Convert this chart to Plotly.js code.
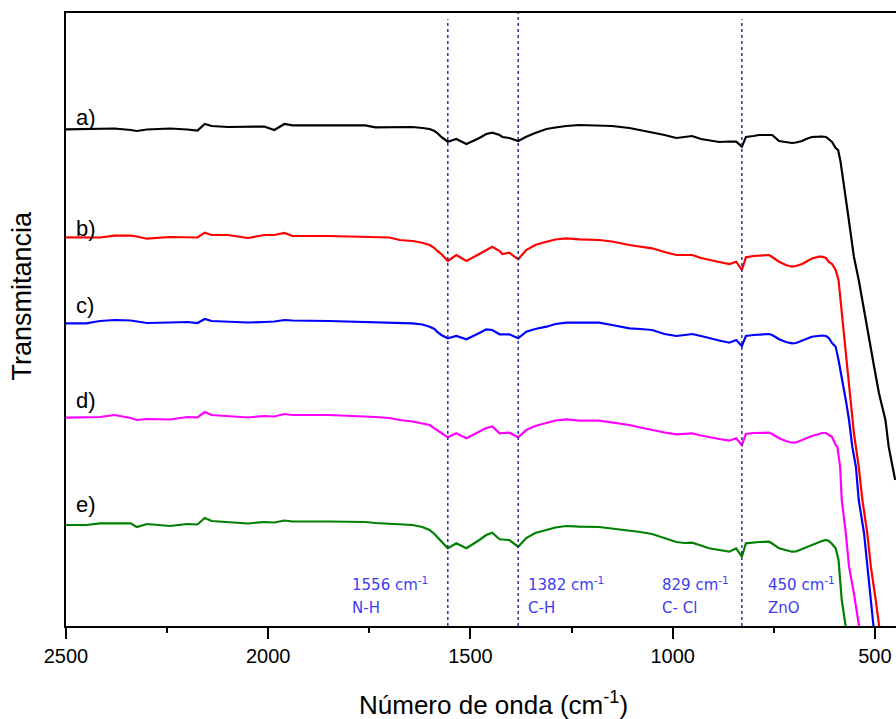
<!DOCTYPE html>
<html>
<head>
<meta charset="utf-8">
<script src="https://cdn.plot.ly/plotly-3.0.1.min.js"></script>
<style>
html, body { margin: 0; padding: 0; overflow: hidden; background: #fff; }
#chart { width: 900px; height: 719px; }
</style>
</head>
<body>
<div id="chart"></div>
<script>
// Wavenumbers (cm-1) shared by the body of all spectra
const wn = [2500, 2450, 2416, 2380, 2340, 2325, 2300, 2243, 2200, 2175,
  2157, 2140, 2100, 2050, 2010, 1985, 1960, 1940, 1850, 1760,
  1735, 1700, 1675, 1643, 1619, 1601, 1589, 1582, 1572, 1556,
  1535, 1510, 1478, 1461, 1446, 1428, 1421, 1404, 1382, 1362,
  1340, 1312, 1290, 1263, 1231, 1182, 1150, 1107, 1080, 1051,
  1020, 991, 970, 952, 930, 910, 885, 860, 843, 829,
  819, 800, 787, 762, 754, 737, 720, 705, 695, 680,
  670, 656, 638, 631, 621, 614, 606];

// Transmittance (arbitrary units, vertically offset spectra)
const tA = [496.7, 497, 497, 497.5, 496, 495, 496.5, 497.5, 496.5, 495.5,
  502, 500, 499, 499, 499.5, 496, 502, 500.7, 500.7, 500.7,
  498.7, 499, 499.3, 499, 498, 497, 495, 493, 489, 484.3,
  487, 482, 488, 492, 493.3, 491, 489, 488, 485, 489.3,
  493, 497, 498.5, 500, 501, 500.7, 500, 498, 496, 494,
  491, 488, 489, 490, 487, 486, 484, 484.5, 484.3, 479.3,
  489, 490, 491, 491, 491, 485, 484, 483, 483.5, 485,
  487, 489, 489.3, 489.5, 489, 487, 484];
const tB = [388.7, 388.7, 388.5, 390.3, 390.3, 389.5, 387.3, 389, 389, 388.5,
  393.3, 391, 391, 388, 391, 391, 393, 390, 390, 389.5,
  389, 388.5, 386, 385, 383.3, 381, 378, 375, 372, 365,
  371, 365, 372, 376, 379.3, 375, 372, 373.3, 366.7, 376,
  381, 384.3, 386.5, 387.7, 386.7, 386, 384.5, 381, 379.5, 377.7,
  374, 371, 371, 371, 368, 366, 364, 362, 364.3, 356,
  368.7, 370, 370.5, 371, 369, 364.3, 361, 359.3, 360, 362,
  364.3, 367.5, 369.3, 369.3, 368, 364, 362];
const tC = [302.7, 302.7, 305, 306, 305.5, 304.5, 303, 303.5, 304, 303,
  307, 305, 304, 303.5, 304, 304.5, 306, 305.5, 305, 304,
  303.5, 303.3, 303, 302.7, 301.5, 299.3, 297, 294, 291, 287.7,
  290, 286.7, 293, 296.7, 296, 291.7, 291.7, 291.7, 287.7, 294.3,
  297, 299.3, 302, 303.3, 303.3, 303.3, 301, 297.7, 297, 296,
  292, 290, 291, 292, 290, 287.7, 285.5, 283.3, 286, 280,
  290, 291, 291.5, 292, 291, 286.7, 284, 282.7, 283, 285,
  287, 289.3, 290, 290.5, 290, 288, 283];
const tD = [208.3, 208.3, 209, 211, 208, 206, 207, 206.5, 209, 208.5,
  214, 211, 210, 208.5, 210, 209.5, 212, 211, 211, 210,
  209, 208, 206, 204.5, 202.7, 201, 197.7, 196, 193, 188.7,
  192.7, 187.7, 194.3, 198, 199.5, 192.7, 193, 193.3, 188.7, 196,
  200, 203.5, 205.5, 206.7, 205.3, 205.3, 203.5, 201, 198.5, 196,
  193.5, 191.7, 192, 192.7, 190.5, 188.7, 187, 185.3, 187.7, 181,
  192, 193, 193.3, 193.3, 192, 187.7, 185, 183.3, 183.5, 186,
  188, 190, 192, 193, 193, 191, 189];
const tE = [101, 101, 102.7, 102.7, 102.7, 99, 102, 100, 102, 101.5,
  108, 105, 104, 102.5, 104, 103.5, 105.5, 104.5, 104.5, 104,
  103, 102, 101.5, 101, 99, 96, 92, 89, 85, 77.7,
  82.7, 77.7, 86, 91, 93.3, 86.7, 86.5, 86, 79.3, 88,
  93, 96, 98.5, 100, 99.3, 99, 97.5, 95.3, 94, 92,
  88, 84, 83, 83.3, 80.5, 77.7, 76, 74.3, 77.7, 69.3,
  82.7, 83.5, 84, 84.3, 82.5, 77.7, 75.5, 74.3, 74.5, 77,
  79, 81, 84, 85, 86, 85, 82];

// ZnO absorption edge (tail of each spectrum)
const wnTailA = [597, 591, 585, 577, 568, 560, 552, 540, 527, 515, 502, 490, 474, 466, 450];
const tTailA  = [478, 476, 464.3, 439.3, 416, 392.7, 369.3, 346, 316, 286, 259.3, 232.7, 206, 179.3, 146];
const wnTailB = [597, 590, 585, 577, 568, 560, 552, 540, 531, 519, 510, 498, 490, 480];
const tTailB  = [356, 346, 326, 293, 259.3, 226, 193, 159.3, 126, 93, 59.3, 26, 4.3, -29];
const wnTailC = [597, 590, 582, 572, 564, 556, 547, 540, 527, 519, 510, 505, 495];
const tTailC  = [279.3, 266, 249.3, 226, 206, 179.3, 159.3, 126, 93, 59.3, 26, 4.3, -34];
const wnTailD = [597, 593, 586, 582, 572, 564, 552, 540, 530];
const tTailD  = [181, 179.3, 159.3, 126, 93, 59.3, 33, 4.3, -24];
const wnTailE = [597, 590, 585, 582, 574, 565];
const tTailE  = [77.7, 66, 43, 26, 4.3, -24];

const seriesNames = ['a)', 'b)', 'c)', 'd)', 'e)'];
const seriesColors = ['#000000', '#ff0000', '#0000ff', '#ff00ff', '#008000'];
const labelLevels = [509, 398, 321, 226, 122];   // label heights in data units

const bandPositions = [1556, 1382, 829];
const bandLabels = ['1556 cm<sup>-1</sup>', '1382 cm<sup>-1</sup>', '829 cm<sup>-1</sup>', '450 cm<sup>-1</sup>'];
const bandGroups = ['N-H', 'C-H', 'C- Cl', 'ZnO'];
const bandLabelX = [1797, 1362, 1031, 769];

const bodies = [tA, tB, tC, tD, tE];
const tailsX = [wnTailA, wnTailB, wnTailC, wnTailD, wnTailE];
const tailsY = [tTailA, tTailB, tTailC, tTailD, tTailE];

const traces = bodies.map((b, i) => ({
  type: 'scatter', mode: 'lines',
  x: wn.concat(tailsX[i]), y: b.concat(tailsY[i]),
  name: seriesNames[i],
  line: {color: seriesColors[i], width: 2.2},
  hoverinfo: 'skip'
}));

const font = 'Liberation Sans, Arial, sans-serif';
const annotations = [];
seriesNames.forEach((n, i) => annotations.push({
  x: 2480, y: labelLevels[i], xref: 'x', yref: 'y', text: n,
  showarrow: false, xanchor: 'left', yanchor: 'middle',
  font: {family: font, size: 22, color: '#000'}
}));
const bandColor = '#3c3cf2';
bandLabels.forEach((t, i) => {
  annotations.push({x: bandLabelX[i], y: 42, xref: 'x', yref: 'y', text: t, showarrow: false,
    xanchor: 'left', yanchor: 'middle', font: {family: 'DejaVu Sans, sans-serif', size: 15, color: bandColor}});
  annotations.push({x: bandLabelX[i], y: 18, xref: 'x', yref: 'y', text: bandGroups[i], showarrow: false,
    xanchor: 'left', yanchor: 'middle', font: {family: 'DejaVu Sans, sans-serif', size: 15, color: bandColor}});
});
annotations.push({x: 0.512, y: -0.126, xref: 'paper', yref: 'paper', text: 'Número de onda (cm<sup>-1</sup>)',
  showarrow: false, xanchor: 'center', yanchor: 'middle', font: {family: font, size: 26, color: '#000'}});
annotations.push({x: -0.0528, y: 0.539, xref: 'paper', yref: 'paper', text: 'Transmitancia', textangle: -90,
  showarrow: false, xanchor: 'center', yanchor: 'middle', font: {family: font, size: 27, color: '#000'}});

const shapes = bandPositions.map((p, i) => ({
  type: 'line', xref: 'x', yref: 'paper', x0: p, x1: p, y0: 0, y1: i === 1 ? 1 : 0.99,
  line: {color: '#22229a', width: 1.4, dash: 'dot'}
}));

const layout = {
  width: 900, height: 719,
  margin: {l: 66, r: 0, t: 13, b: 93},
  paper_bgcolor: '#fff', plot_bgcolor: '#fff',
  showlegend: false,
  xaxis: {
    range: [2500, 438], tick0: 500, dtick: 500,
    ticks: 'outside', ticklen: 11, tickwidth: 2, tickcolor: '#000',
    showline: true, linewidth: 2, linecolor: '#000', mirror: true,
    showgrid: false, zeroline: false,
    tickfont: {family: font, size: 20, color: '#000'},
    minor: {dtick: 250, tick0: 500, ticks: 'outside', ticklen: 5, tickwidth: 2, tickcolor: '#000', showgrid: false}
  },
  yaxis: {
    range: [0, 613], showticklabels: false, ticks: '',
    showline: true, linewidth: 2, linecolor: '#000', mirror: true,
    showgrid: false, zeroline: false
  },
  annotations: annotations,
  shapes: shapes
};

Plotly.newPlot('chart', traces, layout, {displayModeBar: false, staticPlot: true});
</script>
</body>
</html>
